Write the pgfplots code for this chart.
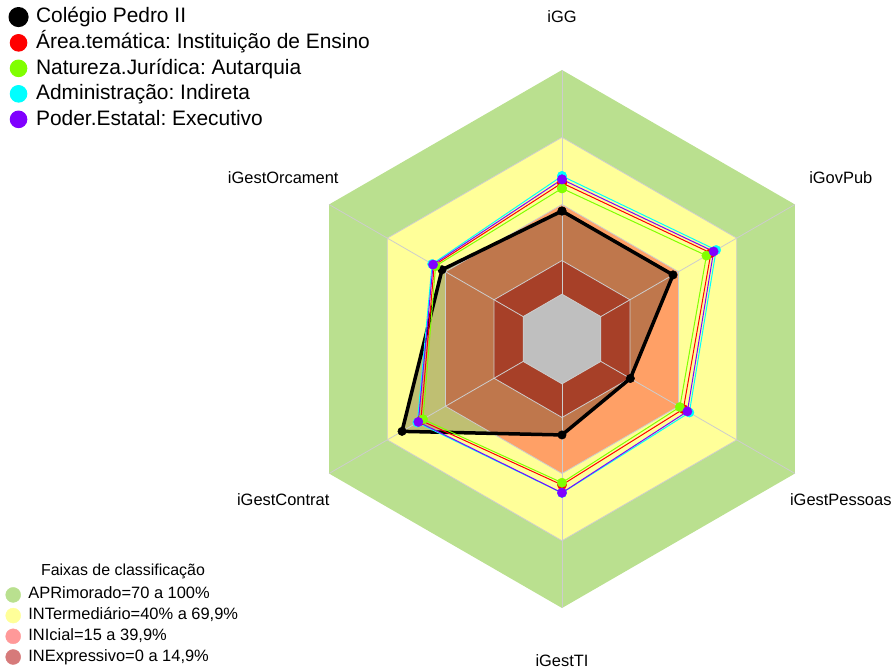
\documentclass[border=0pt]{standalone}
\usepackage{pgfplots}
\usepackage{pgfplotstable}
\pgfplotsset{compat=1.18}
\usepgfplotslibrary{polar}
\usepackage{fontspec}
\setmainfont{Liberation Sans}
\frenchspacing
\definecolor{bandA}{RGB}{186,224,143}
\definecolor{bandB}{RGB}{255,255,153}
\definecolor{bandC}{RGB}{255,160,102}
\definecolor{bandD}{RGB}{224,86,54}
\definecolor{centergrey}{RGB}{191,191,191}
\definecolor{gridgrey}{RGB}{205,205,205}
\definecolor{serPurple}{RGB}{128,0,255}
\definecolor{serGreen}{RGB}{128,255,0}
\definecolor{serCyan}{RGB}{0,255,255}
\definecolor{serRed}{RGB}{255,0,0}
\definecolor{legA}{RGB}{185,224,143}
\definecolor{legB}{RGB}{255,255,153}
\definecolor{legC}{RGB}{255,153,153}
\definecolor{legD}{RGB}{214,122,122}

% angle: iGG=90, iGovPub=30, iGestPessoas=330, iGestTI=270, iGestContrat=210, iGestOrcament=150
% values in percent; the chart's centre hole adds an offset of 20 to the radius
\pgfplotstableread{
ang  cp2   area  nat   adm   pod
90   37.1  49.6  47.2  52.7  51.2
30   37.2  56.7  54.4  59.4  58.1
330  15.2  42.5  40.7  45.6  44.6
270  22.8  45.1  44.1  48.7  48.6
210  62.4  52.7  51.6  54.5  54.0
150  41.8  45.8  45.1  46.9  46.4
90   37.1  49.6  47.2  52.7  51.2
}\radardata

\pgfplotstableread{
ang  r100 r70 r40 r15 r0
90   100  70  40  15  0
30   100  70  40  15  0
330  100  70  40  15  0
270  100  70  40  15  0
210  100  70  40  15  0
150  100  70  40  15  0
90   100  70  40  15  0
}\bands

\begin{document}
\begin{tikzpicture}
\useasboundingbox (0,0) rectangle (895bp,672bp);
\coordinate (BL) at (5.5bp,7bp);
\begin{polaraxis}[
  at={(562bp,333bp)}, anchor=center,
  width=538bp, height=538bp, scale only axis,
  hide axis, clip=false,
  xmin=0, xmax=360, ymin=0, ymax=120,
  every axis plot/.append style={y filter/.expression={y+20}},
  legend image code/.code={\fill[#1] (8.3bp,0bp) circle (8.3bp);},
  legend style={at={(-553.5bp,332bp)}, anchor=north west, draw=none, fill=none,
     font=\fontsize{21}{25}\selectfont, inner sep=0pt, outer sep=0pt,
     row sep=6bp, column sep=7.5bp,
     nodes={inner sep=0pt, text height=15.5bp, text depth=4bp},
     cells={anchor=west}},
]
% bands
\addplot[draw=none, fill=bandA, forget plot] table[x=ang,y=r100]{\bands};
\addplot[draw=none, fill=bandB, forget plot] table[x=ang,y=r70]{\bands};
\addplot[draw=none, fill=bandC, forget plot] table[x=ang,y=r40]{\bands};
\addplot[draw=none, fill=bandD, forget plot] table[x=ang,y=r15]{\bands};
% fill of Colegio Pedro II
\addplot[draw=none, fill=black, fill opacity=0.25, forget plot] table[x=ang,y=cp2]{\radardata};
% grid
\addplot[gridgrey, line width=0.8bp, forget plot] table[x=ang,y=r70]{\bands};
\addplot[gridgrey, line width=0.8bp, forget plot] table[x=ang,y=r40]{\bands};
\addplot[gridgrey, line width=0.8bp, forget plot] table[x=ang,y=r15]{\bands};
\addplot[gridgrey, line width=0.8bp, forget plot] coordinates {(90,0) (90,100)};
\addplot[gridgrey, line width=0.8bp, forget plot] coordinates {(30,0) (30,100)};
\addplot[gridgrey, line width=0.8bp, forget plot] coordinates {(330,0) (330,100)};
\addplot[gridgrey, line width=0.8bp, forget plot] coordinates {(270,0) (270,100)};
\addplot[gridgrey, line width=0.8bp, forget plot] coordinates {(210,0) (210,100)};
\addplot[gridgrey, line width=0.8bp, forget plot] coordinates {(150,0) (150,100)};
\addplot[draw=gridgrey, fill=centergrey, line width=0.8bp, forget plot] table[x=ang,y=r0]{\bands};
% series
\addplot[black, line width=3.5bp, line join=round, mark=*, mark size=4.2bp, mark options={fill=black, line width=0.5bp}] table[x=ang,y=cp2]{\radardata};
\addlegendentry{Colégio Pedro II}
\addplot[serRed, line width=1bp, mark=*, mark size=4.7bp, mark options={fill=serRed, draw=serRed, line width=0.3bp}] table[x=ang,y=area]{\radardata};
\addlegendentry{Área.temática: Instituição de Ensino}
\addplot[serGreen, line width=1bp, mark=*, mark size=4.7bp, mark options={fill=serGreen, draw=serGreen, line width=0.3bp}] table[x=ang,y=nat]{\radardata};
\addlegendentry{Natureza.Jurídica: Autarquia}
\addplot[serCyan, line width=1bp, mark=*, mark size=4.7bp, mark options={fill=serCyan, draw=serCyan, line width=0.3bp}] table[x=ang,y=adm]{\radardata};
\addlegendentry{Administração: Indireta}
\addplot[serPurple, line width=1bp, mark=*, mark size=4.7bp, mark options={fill=serPurple, draw=serPurple, line width=0.3bp}] table[x=ang,y=pod]{\radardata};
\addlegendentry{Poder.Estatal: Executivo}
% axis labels (radius 143.6 = 123.6 + offset 20)
\node[font=\fontsize{16.5}{20}\selectfont] at (axis cs:90,143.6) {iGG};
\node[font=\fontsize{16.5}{20}\selectfont] at (axis cs:30,143.6) {iGovPub};
\node[font=\fontsize{16.5}{20}\selectfont] at (axis cs:330,143.6) {iGestPessoas};
\node[font=\fontsize{16.5}{20}\selectfont] at (axis cs:270,143.6) {iGestTI};
\node[font=\fontsize{16.5}{20}\selectfont] at (axis cs:210,143.6) {iGestContrat};
\node[font=\fontsize{16.5}{20}\selectfont] at (axis cs:150,143.6) {iGestOrcament};
\end{polaraxis}

\begin{axis}[
  at={(0,0)}, anchor=south west, width=100bp, height=100bp, scale only axis,
  hide axis, xmin=0, xmax=1, ymin=0, ymax=1,
  legend image code/.code={\fill[#1] (7.5bp,0bp) circle (7.5bp);},
  legend style={at={(BL)}, anchor=south west, draw=none, fill=none,
     font=\fontsize{16.5}{20}\selectfont, inner sep=0pt, outer sep=0pt,
     row sep=4.7bp, column sep=7.5bp,
     nodes={inner sep=0pt, text height=12bp, text depth=4bp},
     cells={anchor=west}},
]
\addlegendimage{legA}
\addlegendentry{APRimorado=70 a 100\%}
\addlegendimage{legB}
\addlegendentry{INTermediário=40\% a 69,9\%}
\addlegendimage{legC}
\addlegendentry{INIcial=15 a 39,9\%}
\addlegendimage{legD}
\addlegendentry{INExpressivo=0 a 14,9\%}
\end{axis}
\node[font=\fontsize{16}{19}\selectfont, anchor=base] at (123bp,96bp) {Faixas de classificação};
\end{tikzpicture}
\end{document}
